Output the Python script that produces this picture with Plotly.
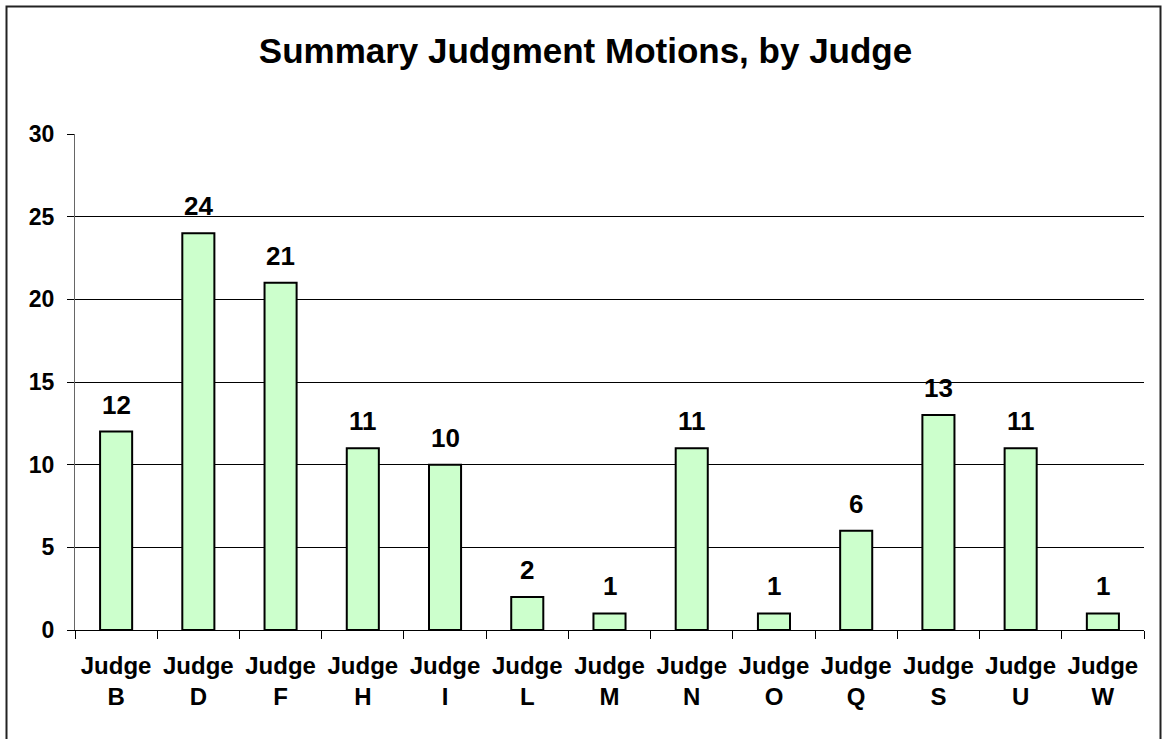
import plotly.graph_objects as go

judges = ["B", "D", "F", "H", "I", "L", "M", "N", "O", "Q", "S", "U", "W"]
motions = [12, 24, 21, 11, 10, 2, 1, 11, 1, 6, 13, 11, 1]
y_ticks = [0, 5, 10, 15, 20, 25, 30]

labels = ["Judge<br>" + j for j in judges]
font_family = "Liberation Sans, Arial, sans-serif"

# plot area in pixels
W, H = 1162, 739
ml, mr, mt, mb = 75, 18, 134, 109
pw, ph = W - ml - mr, H - mt - mb

fig = go.Figure()
fig.add_trace(go.Bar(
    x=labels,
    y=motions,
    marker=dict(color="#CCFFCC", line=dict(color="black", width=2)),
    hoverinfo="skip",
))

# value labels above bars
for lab, v in zip(labels, motions):
    fig.add_annotation(
        x=lab, y=v, text="<b>%d</b>" % v, showarrow=False,
        yanchor="bottom", yshift=10,
        font=dict(family=font_family, size=26, color="black"),
    )

# outer chart border
fig.add_shape(
    type="rect", xref="paper", yref="paper",
    x0=(6.5 - ml) / pw, x1=(1160.5 - ml) / pw,
    y0=(H - mb - 745) / ph, y1=(H - mb - 6.5) / ph,
    line=dict(color="#222222", width=2), fillcolor="rgba(0,0,0,0)",
    layer="above",
)

fig.update_layout(
    width=W, height=H,
    margin=dict(l=ml, r=mr, t=mt, b=mb, pad=0),
    paper_bgcolor="white", plot_bgcolor="white",
    showlegend=False,
    bargap=0.61,
    font=dict(family=font_family, color="black"),
    title=dict(
        text="<b>Summary Judgment Motions, by Judge</b>",
        x=585.5 / W, xanchor="center", xref="container",
        y=1 - 51 / H, yanchor="middle", yref="container",
        font=dict(family=font_family, size=35, color="black"),
    ),
    xaxis=dict(
        type="category",
        tickson="boundaries",
        ticks="outside", ticklen=8, tickwidth=1, tickcolor="black",
        showline=True, linecolor="black", linewidth=1,
        showgrid=False,
        tickfont=dict(family=font_family, size=24, color="black"),
        ticklabelstandoff=14,
    ),
    yaxis=dict(
        range=[0, 30], tickvals=y_ticks,
        ticktext=["<b>%d</b>" % t for t in y_ticks],
        ticks="outside", ticklen=7, tickwidth=1, tickcolor="black",
        showline=True, linecolor="#666666", linewidth=1,
        showgrid=True, gridcolor="black", gridwidth=1,
        zeroline=False,
        tickfont=dict(family=font_family, size=23, color="black"),
        ticklabelstandoff=8,
    ),
)
fig.update_xaxes(ticktext=["<b>Judge</b><br><b>%s</b>" % j for j in judges], tickvals=labels)

fig.write_html("out.html", config={"displayModeBar": False},
               post_script="document.body.style.margin='0';")
